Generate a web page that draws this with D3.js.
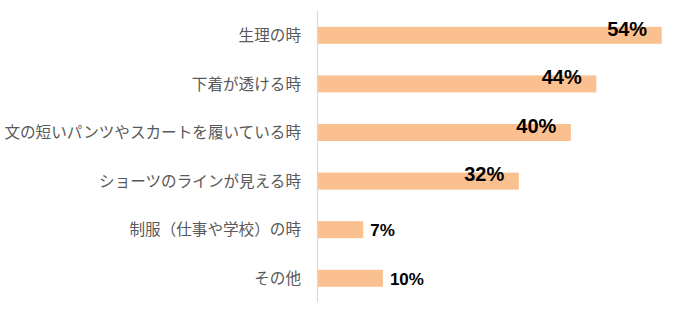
<!DOCTYPE html>
<html>
<head>
<meta charset="utf-8">
<script src="https://cdn.jsdelivr.net/npm/d3@7"></script>
<style>
  html, body { margin: 0; padding: 0; background: #fff; }
  svg { display: block; }
</style>
</head>
<body>
<svg id="chart" width="695" height="313"></svg>
<script>
const categories = [
  "生理の時",
  "下着が透ける時",
  "文の短いパンツやスカートを履いている時",
  "ショーツのラインが見える時",
  "制服（仕事や学校）の時",
  "その他"
];
const values = [54.2, 43.9, 39.9, 31.7, 7.2, 10.3];
const valueLabels = ["54%", "44%", "40%", "32%", "7%", "10%"];

(function () {
const svg = d3.select("#chart");
const x0 = 317.5, plotTop = 11, plotBottom = 302.6;

const x = d3.scaleLinear().domain([0, 100]).range([x0, x0 + 635]);
const y = d3.scaleBand().domain(categories).range([plotTop, plotBottom])
  .paddingInner(0.65).paddingOuter(0.325);

// bars
svg.append("g").selectAll("rect").data(categories).join("rect")
  .attr("x", x(0))
  .attr("y", d => y(d))
  .attr("width", (d, i) => x(values[i]) - x(0))
  .attr("height", y.bandwidth())
  .attr("fill", "#FAC090");

// axis line
svg.append("line")
  .attr("x1", x0).attr("x2", x0)
  .attr("y1", plotTop).attr("y2", plotBottom)
  .attr("stroke", "#D9D9D9").attr("stroke-width", 1.2);

// category labels
svg.append("g").selectAll("text").data(categories).join("text")
  .attr("x", 301)
  .attr("y", d => y(d) + y.bandwidth() / 2)
  .attr("dy", "0.36em")
  .attr("text-anchor", "end")
  .attr("font-family", "'Noto Sans CJK JP', 'Noto Sans', sans-serif")
  .attr("font-size", "15.6px")
  .attr("fill", "#595959")
  .text(d => d);

// value labels
svg.append("g").selectAll("text").data(categories).join("text")
  .each(function(d, i) {
    const t = d3.select(this);
    const inside = values[i] > 20;
    const cy = y(d) + y.bandwidth() / 2;
    if (inside) {
      t.attr("x", x(values[i]) - 14.5)
       .attr("y", cy + 0.3)
       .attr("text-anchor", "end")
       .attr("font-size", "20px");
    } else {
      t.attr("x", x(values[i]) + 7)
       .attr("y", cy + 6.6)
       .attr("text-anchor", "start")
       .attr("font-size", "17px");
    }
  })
  .attr("font-family", "'Liberation Sans', Arial, sans-serif")
  .attr("font-weight", "bold")
  .attr("fill", "#000")
  .text((d, i) => valueLabels[i]);
})();
</script>
</body>
</html>
